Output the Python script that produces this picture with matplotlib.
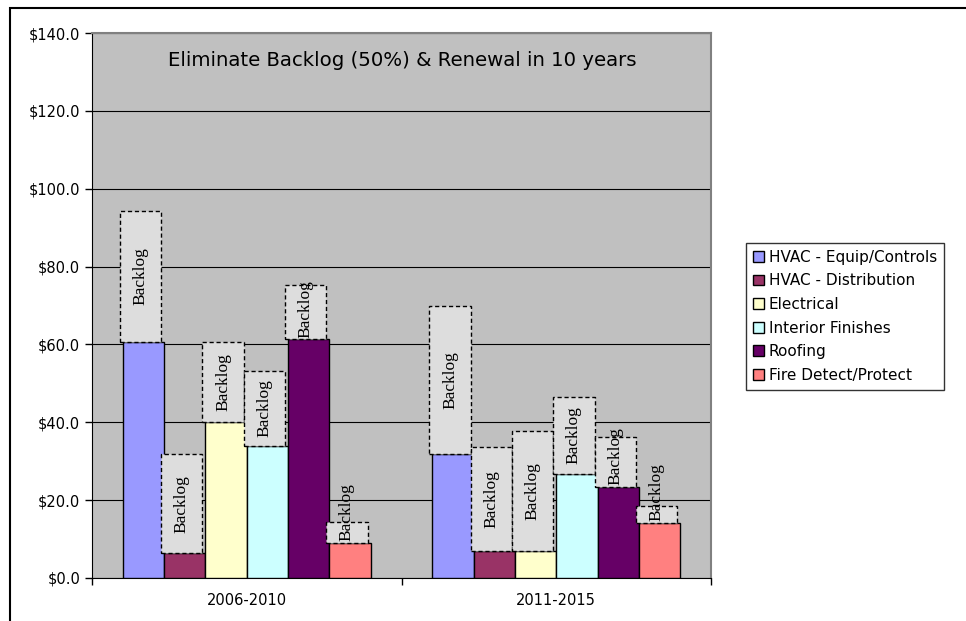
import matplotlib
matplotlib.use("Agg")
import matplotlib.pyplot as plt
import matplotlib.patches as mpatches
import numpy as np

# donnees (millions $)
periodes = ["2006-2010", "2011-2015"]
systemes = ["HVAC - Equip/Controls", "HVAC - Distribution", "Electrical",
            "Interior Finishes", "Roofing", "Fire Detect/Protect"]
couleurs = ["#9999FF", "#993366", "#FFFFCC", "#CCFFFF", "#660066", "#FF8080"]

renouvellement_2006 = [60.6, 6.3, 40.0, 33.9, 61.3, 9.0]
renouvellement_2011 = [31.8, 7.0, 7.0, 26.7, 23.5, 14.2]
backlog_2006 = [33.7, 25.6, 20.6, 19.3, 14.0, 5.5]
backlog_2011 = [38.1, 26.6, 30.8, 19.9, 12.8, 4.3]

renouvellement = np.array([renouvellement_2006, renouvellement_2011])
backlog = np.array([backlog_2006, backlog_2011])

plt.rcParams['font.family'] = ['DejaVu Sans']

fig = plt.figure(figsize=(9.66, 6.21), dpi=100)
ax = fig.add_axes([92 / 966, 1 - 578 / 621, 619 / 966, 545 / 621])
ax.set_facecolor("#C0C0C0")

largeur = 0.8 / len(systemes)
decalage = -3 / 309.5
x = np.arange(len(periodes))

for i, (nom, coul) in enumerate(zip(systemes, couleurs)):
    pos = x - 0.4 + largeur * (i + 0.5)
    ax.bar(pos, renouvellement[:, i], width=largeur, color=coul,
           edgecolor="black", linewidth=1.0, label=nom, zorder=3)
    ax.bar(pos + decalage, backlog[:, i], width=largeur,
           bottom=renouvellement[:, i], color="#DDDDDD", edgecolor="black",
           linewidth=1.0, linestyle=(0, (3, 2)), zorder=4)
    for j in range(len(periodes)):
        bas = renouvellement[j, i]
        haut = bas + backlog[j, i]
        y_txt = max((bas + haut) / 2, bas + 7.9)
        ax.text(pos[j] + decalage, y_txt, "Backlog", rotation=90,
                ha="center", va="center", fontsize=12.5,
                family=["Liberation Serif", "DejaVu Serif"], zorder=5)

ax.set_xlim(-0.5, 1.5)
ax.set_ylim(0, 140)
ax.set_yticks(np.arange(0, 141, 20))
ax.set_yticklabels([f"${v:.1f}" for v in np.arange(0, 141, 20)], fontsize=10.5)
ax.yaxis.grid(True, color="black", linewidth=0.8, zorder=0)
ax.set_axisbelow(True)
ax.tick_params(axis="y", direction="out", length=5, width=1)

ax.set_xticks(x)
ax.set_xticklabels(periodes, fontsize=10.5)
ax.tick_params(axis="x", which="major", length=0, pad=11)
ax.set_xticks([-0.5, 0.5, 1.5], minor=True)
ax.tick_params(axis="x", which="minor", direction="out", length=5, width=1)

for cote in ["top", "right"]:
    ax.spines[cote].set_color("#808080")
    ax.spines[cote].set_linewidth(1.5)
ax.spines["left"].set_color("black")
ax.spines["bottom"].set_color("black")

ax.text(168 / 966, 1 - 60 / 621, "Eliminate Backlog (50%) & Renewal in 10 years",
        transform=fig.transFigure, fontsize=14.2, ha="left", va="center")

leg = fig.legend(loc="upper left", bbox_to_anchor=(746 / 966, 1 - 243 / 621),
                 borderaxespad=0, fontsize=11, frameon=True, fancybox=False,
                 handlelength=0.7, handleheight=0.7, handletextpad=0.35,
                 labelspacing=0.56, borderpad=0.45)
leg.get_frame().set_edgecolor("black")
leg.get_frame().set_linewidth(1.0)

# cadre du graphique
fig.patches.append(mpatches.Rectangle((10 / 966, -0.1), 1.2, 1 - 8 / 621 + 0.1,
                                      transform=fig.transFigure, fill=False,
                                      edgecolor="black", linewidth=1.5))

fig.savefig("out.png", dpi=100)
